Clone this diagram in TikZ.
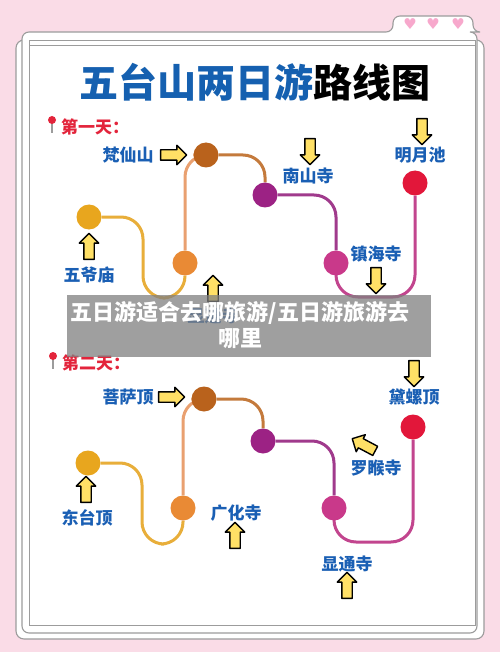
\documentclass[tikz,border=0pt]{standalone}
\usepackage{fontspec}
\setmainfont{Noto Sans CJK SC}
\newfontfamily\symfont{DejaVu Sans}
\usetikzlibrary{shapes.arrows}
\definecolor{bgPink}{HTML}{FADCE7}
\definecolor{cardGray}{HTML}{9C9C9C}
\definecolor{titleBlue}{HTML}{1560B0}
\definecolor{placeBlue}{HTML}{1A5FB4}
\definecolor{dayRed}{HTML}{E3243B}
\definecolor{arrowYellow}{HTML}{FFE066}
\definecolor{heartPink}{HTML}{F7A8CC}
\definecolor{cGold}{HTML}{E8A61E}
\definecolor{cOrange}{HTML}{E98A35}
\definecolor{cBrown}{HTML}{B9621C}
\definecolor{cPurple}{HTML}{9C2284}
\definecolor{cPink}{HTML}{C9398A}
\definecolor{cRed}{HTML}{E2173A}
\definecolor{lGold}{HTML}{E8AE3A}
\definecolor{lOrange}{HTML}{E9A070}
\definecolor{lBrown}{HTML}{C47A3C}
\definecolor{lPurple}{HTML}{A03A8C}
\definecolor{lPink}{HTML}{C2458E}
\pgfdeclarelayer{card}
\pgfdeclarelayer{trails}
\pgfsetlayers{card,trails,main}

\begin{document}
\begin{tikzpicture}[x=1pt, y=-1pt,
  stop/.style={circle, minimum size=25, inner sep=0},
  place/.style={text=placeBlue, font=\bfseries\fontsize{17}{19}\selectfont, inner sep=0},
  dayhead/.style={text=dayRed, font=\bfseries\fontsize{17}{19}\selectfont, inner sep=0, anchor=west},
  yarrow/.style={single arrow, draw=black, fill=arrowYellow, line width=1.4pt, minimum height=26, inner xsep=0, inner ysep=4.5, single arrow head extend=4.5, single arrow head indent=0, line join=round},
  trail/.style={line width=3pt, rounded corners=22},
  cardline/.style={draw=cardGray, line width=1.1pt, fill=white}]
  \useasboundingbox (0,0) rectangle (500,652);
  \begin{pgfonlayer}{card}
    \fill[bgPink] (0,0) rectangle (500,652);
    \draw[cardline, rounded corners=8] (16,40) rectangle (484,639);
    \draw[cardline, rounded corners=7] (22,633) -- (22,32) -- (393,32) -- (393,16) -- (473,16) -- (473,32) -- (477,32) -- (477,633) -- cycle;
    \draw[draw=cardGray, line width=0.9pt] (29,40) rectangle (475,625);
    \draw[draw=cardGray, line width=0.9pt] (29,45) -- (475,45);
  \end{pgfonlayer}
  \foreach \hx [count=\i] in {410,433,458}
    \node[text=heartPink, font=\symfont\fontsize{15}{15}\selectfont, inner sep=0] (heart\i) at (\hx,24) {♥};

  \node (title) at (255,82) {\fontsize{39}{42}\selectfont\bfseries\textcolor{titleBlue}{五台山两日游}路线图};

  % day 1
  \fill[cardGray] (51.3,120) rectangle (52.7,133);
  \fill[dayRed] (52,120) circle (4);
  \node[dayhead] (dayOne) at (61,127) {第一天：};

  \node[stop, fill=cGold] (wuye) at (89,217) {};
  \node[stop, fill=cOrange] (xiantong) at (185,263) {};
  \node[stop, fill=cBrown] (fanxian) at (206,155) {};
  \node[stop, fill=cPurple] (nanshan) at (265,195) {};
  \node[stop, fill=cPink] (zhenhai) at (336,263) {};
  \node[stop, fill=cRed] (mingyue) at (415,183) {};

  \node[place] (fanxianLbl) at (128,155) {梵仙山};
  \node[yarrow] (fanxianArr) at (171,155) {};
  \node[place] (wuyeLbl) at (89,275) {五爷庙};
  \node[yarrow, rotate=90] (wuyeArr) at (89,249) {};
  \node[place] (xiantongLbl) at (213,316) {显通寺};
  \node[yarrow, rotate=90] (xiantongArr) at (213,291) {};
  \node[place] (nanshanLbl) at (308,176) {南山寺};
  \node[yarrow, rotate=-90] (nanshanArr) at (310,149) {};
  \node[place] (mingyueLbl) at (420,155) {明月池};
  \node[yarrow, rotate=-90] (mingyueArr) at (422,129) {};
  \node[place] (zhenhaiLbl) at (376,254) {镇海寺};
  \node[yarrow, rotate=-90] (zhenhaiArr) at (376,278) {};

  % day 2
  \fill[cardGray] (52.3,356) rectangle (53.7,369);
  \fill[dayRed] (53,356) circle (4);
  \node[dayhead] (dayTwo) at (62,363) {第二天：};

  \node[stop, fill=cGold] (dongtai) at (88,463) {};
  \node[stop, fill=cOrange] (guanghua) at (183,508) {};
  \node[stop, fill=cBrown] (pusa) at (204,399) {};
  \node[stop, fill=cPurple] (luohou) at (263,441) {};
  \node[stop, fill=cPink] (xiantongB) at (334,508) {};
  \node[stop, fill=cRed] (dailuo) at (413,427) {};

  \node[place] (pusaLbl) at (128,397) {菩萨顶};
  \node[yarrow] (pusaArr) at (169,397) {};
  \node[place] (dongtaiLbl) at (87,518) {东台顶};
  \node[yarrow, rotate=90] (dongtaiArr) at (86,492) {};
  \node[place] (guanghuaLbl) at (236,513) {广化寺};
  \node[yarrow, rotate=90] (guanghuaArr) at (235,538) {};
  \node[place] (dailuoLbl) at (414,397) {黛螺顶};
  \node[yarrow, rotate=-90] (dailuoArr) at (414,371) {};
  \node[place] (luohouLbl) at (376,468) {罗睺寺};
  \node[yarrow, rotate=152] (luohouArr) at (366,446) {};
  \node[place] (xiantongBLbl) at (347,564) {显通寺};
  \node[yarrow, rotate=90] (xiantongBArr) at (347,588) {};

  \begin{pgfonlayer}{trails}
    \draw[trail, lGold] (wuye) -- ++(54,0) -- ++(0,81) -| (xiantong);
    \draw[trail, lOrange] (xiantong) |- (fanxian);
    \draw[trail, lBrown] (fanxian) -| (nanshan);
    \draw[trail, lPurple] (nanshan) -| (zhenhai);
    \draw[trail, lPink] (zhenhai) -- ++(0,34) -| (mingyue);
    \draw[trail, lGold] (dongtai) -- ++(54,0) -- ++(0,81) -| (guanghua);
    \draw[trail, lOrange] (guanghua) |- (pusa);
    \draw[trail, lBrown] (pusa) -| (luohou);
    \draw[trail, lPurple] (luohou) -| (xiantongB);
    \draw[trail, lPink] (xiantongB) -- ++(0,34) -| (dailuo);
  \end{pgfonlayer}

  \node[fill={rgb,255:red,128;green,128;blue,128}, fill opacity=0.75, minimum width=364, minimum height=62, inner sep=0] (banner) at (249,326) {};
  \node[text=white, align=center, font=\bfseries\fontsize{22}{26}\selectfont, inner sep=0] (bannerText) at (240,325) {五日游适合去哪旅游/五日游旅游去\\哪里};
\end{tikzpicture}
\end{document}
